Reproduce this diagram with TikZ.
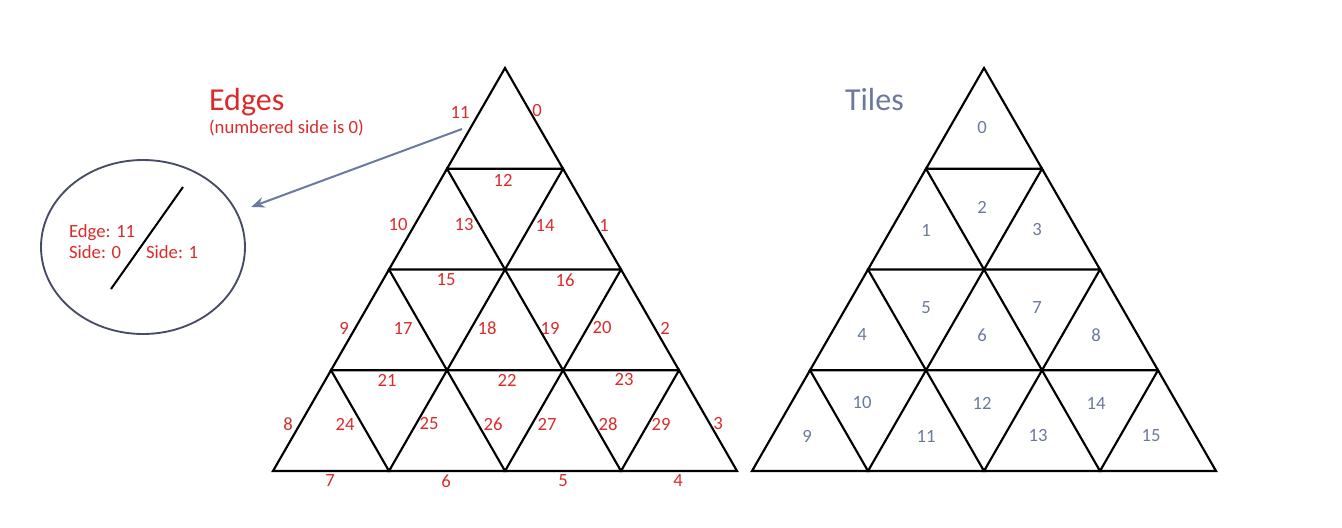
\documentclass[tikz,border=0pt]{standalone}
\usepackage{fontspec}
\setmainfont{Carlito}
\usetikzlibrary{arrows.meta, shapes.geometric}
\definecolor{cedge}{HTML}{DA2B2B}
\definecolor{ctile}{HTML}{6B7A9C}
\definecolor{carrow}{HTML}{6A7AA0}
\definecolor{cring}{HTML}{474D66}
\tikzset{
  every picture/.style={line width=1.6pt},
  tri/.style={draw=black, line join=miter},
  elab/.style={text=cedge, font=\fontsize{14}{16}\selectfont, inner sep=0pt},
  tlab/.style={text=ctile, font=\fontsize{14}{16}\selectfont, inner sep=0pt},
  title/.style={font=\fontsize{24}{28}\selectfont, inner sep=0pt, anchor=base west},
  arrow/.style={-{Stealth[length=10pt, width=8pt]}, draw=carrow, line width=1.5pt},
}
\begin{document}
\begin{tikzpicture}[x=0.75pt, y=-0.75pt]
  \useasboundingbox (0,0) rectangle (1342,528);

  % ---- edges: big triangle of 16 small ones
  \foreach \r in {0,...,3}
    \foreach \k in {0,...,\r}
      \draw[tri] ({505+(\k-\r/2)*116}, {68+\r*100.75}) -- ++(-58,100.75) -- ++(116,0) -- cycle;
  \foreach \x/\y/\t in {460/112/11, 537/111/0, 503/180/12,
                        398/225/10, 464/225/13, 545/225/14, 604/225/1,
                        446/280/15, 565/280/16,
                        344/328/9, 403/328/17, 487/328/18, 550/328/19, 602/328/20, 665/328/2,
                        387/380/21, 507/380/22, 624/380/23,
                        288/424/8, 345/424/24, 429/424/25, 493/424/26, 547/424/27, 608/424/28, 661/424/29, 718/424/3,
                        330/481/7, 446/481/6, 563/481/5, 678/481/4}
    { \node[elab] (e\t) at (\x,\y) {\t}; }
  \node[title, text=cedge] (edgestitle) at (208,111) {Edges};
  \node[title, font=\fontsize{14}{16}\selectfont, text=cedge] (edgesnote) at (208,133) {(numbered side is 0)};

  % ---- close-up of one edge
  \node[ellipse, draw=cring, line width=1.4pt, minimum width=153pt, minimum height=130.5pt, inner sep=0pt] (zoom) at (143,247) {};
  \coordinate (cut0) at (183,187);
  \coordinate (cut1) at (111,289);
  \draw[line width=1.5pt] (cut0) -- (cut1);
  \node[elab, anchor=base west] (zedge) at (68,237) {Edge: 11};
  \node[elab, anchor=base west] (zside0) at (68,258) {Side: 0};
  \node[elab, anchor=base west] (zside1) at (145,258) {Side: 1};
  \coordinate (pick) at (462,129);
  \draw[arrow, shorten >=11pt] (pick) -- (zoom);

  % ---- tiles
  \foreach \r in {0,...,3}
    \foreach \k in {0,...,\r}
      \draw[tri] ({984+(\k-\r/2)*116}, {68+\r*100.75}) -- ++(-58,100.75) -- ++(116,0) -- cycle;
  \foreach \x/\y/\t in {982/128/0,
                        926/230/1, 982/207/2, 1037/230/3,
                        862/335/4, 926/308/5, 982/335/6, 1037/308/7, 1096/335/8,
                        807/436/9, 862/403/10, 926/436/11, 982/403/12, 1038/436/13, 1096/403/14, 1151/436/15}
    { \node[tlab] (t\t) at (\x,\y) {\t}; }
  \node[title, text=ctile] (tilestitle) at (844,111) {Tiles};
\end{tikzpicture}
\end{document}
